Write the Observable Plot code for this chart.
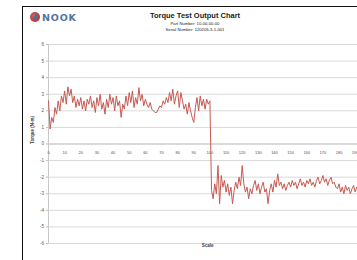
<!DOCTYPE html>
<html>
<head>
<meta charset="utf-8">
<script src="https://cdn.jsdelivr.net/npm/d3@7"></script>
<script src="https://cdn.jsdelivr.net/npm/@observablehq/plot@0.6"></script>
<style>
  html, body { margin: 0; padding: 0; background: #fff; overflow: hidden; }
  #page { position: relative; width: 357px; height: 260px; overflow: hidden; font-family: "Liberation Sans", Arial, sans-serif; }
  #frame { position: absolute; left: 22px; top: 6px; width: 400px; height: 300px; border-left: 1.5px solid #111; border-top: 1.5px solid #111; }
  #chart { position: absolute; left: 0; top: 0; width: 375px; height: 260px; }
  #chart svg { max-width: none !important; }
  .logo-circle { position: absolute; left: 30px; top: 12px; width: 10px; height: 10px; border-radius: 50%; background: radial-gradient(circle at 40% 40%, #d8605a, #9a2a2a); }
  .logo-circle::after { content: ""; position: absolute; left: 3.5px; top: 2px; width: 3px; height: 6px; background: #4f6f9f; transform: skewX(-20deg); border-radius: 1px; }
  .logo-text { position: absolute; left: 42px; top: 11.5px; font: bold 9.5px "DejaVu Sans", sans-serif; color: #55739f; letter-spacing: 0.8px; }
  .title { position: absolute; left: 0; width: 390px; text-align: center; color: #222; }
</style>
</head>
<body>
<div id="page">
  <div id="frame"></div>
  <div id="chart"></div>
  <div class="logo-circle"></div>
  <div class="logo-text">NOOK</div>
  <div class="title" style="top:11px; font-weight:bold; font-size:7.5px;">Torque Test Output Chart</div>
  <div class="title" style="top:20.5px; font-size:4.2px;">Part Number: 10-00-00-00</div>
  <div class="title" style="top:26.5px; font-size:4.2px;">Serial Number: 120205-3-1-001</div>
</div>
<script>
// Torque readings (N-m), one per sample index
const torque = [
  2.6, 0.9, 1.6, 1.3, 2.2, 1.8, 2.6, 2.0, 2.9, 2.5,
  3.2, 2.4, 3.45, 2.9, 3.3, 2.5, 2.9, 2.2, 2.7, 2.3,
  2.8, 2.1, 2.6, 2.0, 2.7, 2.4, 2.9, 2.2, 2.6, 1.9,
  2.8, 2.3, 3.0, 2.1, 2.5, 1.8, 2.7, 2.2, 3.0, 2.4,
  2.8, 2.0, 2.9, 2.3, 2.6, 1.6, 2.4, 2.1, 2.9, 2.3,
  3.1, 2.5, 3.2, 2.2, 2.8, 2.4, 3.4, 2.6, 3.0, 2.3,
  2.7, 2.4, 2.2, 2.5, 2.1, 2.0, 1.9, 1.9, 2.1, 2.3,
  2.2, 2.6, 2.4, 2.8, 2.5, 3.1, 2.6, 3.3, 2.4, 2.9,
  3.2, 2.2, 3.1, 2.6, 2.1, 2.4, 1.8, 2.5, 2.0, 1.6,
  1.3, 2.2, 2.8, 2.0, 2.9, 2.3, 2.7, 2.1, 2.7, 2.4,
  2.6,
  -2.8, -3.3, -2.4, -3.0, -1.3, -3.6, -1.9, -2.6, -2.2, -2.9,
  -2.4, -3.1, -2.6, -3.6, -2.8, -2.3, -2.7, -2.0, -2.5, -1.3,
  -2.4, -2.9, -2.6, -3.3, -2.7, -3.0, -2.5, -2.2, -2.8, -2.4,
  -3.0, -2.6, -2.3, -2.9, -2.7, -3.6, -2.8, -2.4, -2.9, -2.2,
  -2.6, -1.8, -2.5, -2.3, -2.7, -2.4, -2.8, -2.5, -2.3, -2.6,
  -2.2, -2.5, -2.3, -2.7, -2.4, -2.1, -2.5, -2.3, -2.6, -2.2,
  -2.4, -2.1, -2.5, -2.3, -2.6, -2.2, -2.0, -2.4, -2.2, -1.9,
  -2.3, -2.1, -2.5, -2.2, -2.0, -2.4, -2.3, -2.6, -2.7, -2.4,
  -2.9, -2.6, -3.0, -2.5, -2.8, -2.6, -3.0, -2.7, -2.5, -2.9,
  -2.6, -2.8, -3.0, -2.7, -2.5, -2.9, -2.7
];
const yTicks = [-6, -5, -4, -3, -2, -1, 0, 1, 2, 3, 4, 5, 6];
const xLabels = [0, 10, 20, 30, 40, 50, 60, 70, 80, 90, 100, 110, 120, 130, 140, 150, 160, 170, 180, 190];
const yTitle = "Torque (N-m)";
const xTitle = "Scale";

const chart = Plot.plot({
  width: 375,
  height: 260,
  marginLeft: 48,
  marginRight: 9,
  marginTop: 44,
  marginBottom: 17,
  style: { fontFamily: "Liberation Sans, Arial, sans-serif", background: "transparent", overflow: "visible", maxWidth: "none" },
  x: { domain: [0, 197], axis: null },
  y: { domain: [-6, 6], axis: null },
  marks: [
    Plot.gridY(yTicks, { stroke: "#d9d9d9", strokeOpacity: 1, strokeWidth: 1 }),
    Plot.ruleX([0], { stroke: "#c8c8c8" }),
    Plot.ruleY([0], { stroke: "#c8c8c8" }),
    Plot.axisY(yTicks, { tickSize: 2, tickPadding: 2.5, fontSize: 4.5, fill: "#595959", stroke: "#bfbfbf", tickFormat: d => String(d) }),
    Plot.text(xLabels, { x: d => d, y: () => 0, dy: 9, text: d => String(d), fontSize: 4, fill: "#505050" }),
    Plot.text([yTitle], { frameAnchor: "left", dx: -16, rotate: -90, fontSize: 4.5, fill: "#404040", fontWeight: "bold" }),
    Plot.text([xTitle], { frameAnchor: "bottom", dy: 3.5, fontSize: 4.5, fill: "#404040", fontWeight: "bold" }),
    Plot.lineY(torque, { x: (d, i) => i, y: d => d, stroke: "#c65a52", strokeWidth: 1 })
  ]
});
document.getElementById("chart").appendChild(chart);
</script>
</body>
</html>
